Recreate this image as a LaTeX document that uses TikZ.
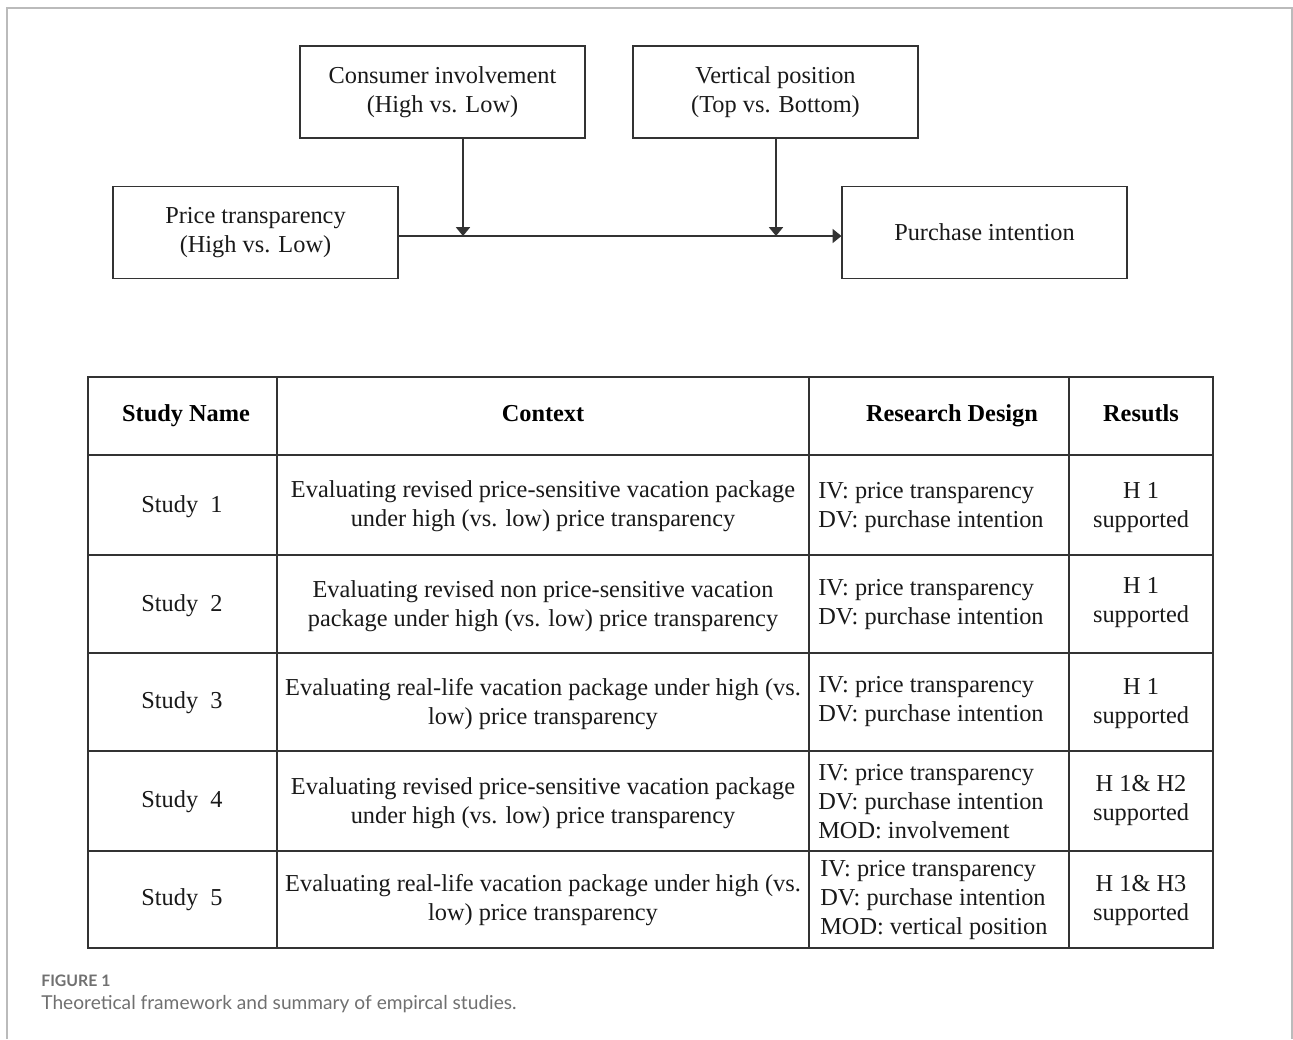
\documentclass[tikz,border=0pt]{standalone}
\usepackage{fontspec}
\setmainfont{Liberation Serif}
\newfontfamily\capfont{Lato}
\usetikzlibrary{arrows.meta}
\definecolor{linec}{HTML}{333333}
\definecolor{capgray}{HTML}{707070}
\definecolor{framec}{HTML}{BBBBBB}
\tikzset{
  txt/.style={font=\fontsize{13.85}{16.5}\selectfont, text=black!90, inner sep=0pt, align=center},
  ltxt/.style={font=\fontsize{13.85}{16.5}\selectfont, text=black!90, inner sep=0pt, align=left, anchor=west},
  hdr/.style={font=\fontsize{13.85}{16.5}\selectfont\bfseries, text=black, inner sep=0pt, anchor=base},
  varbox/.style={draw=linec, line width=0.7pt, minimum width=5.7cm, minimum height=1.84cm, txt},
  conn/.style={draw=linec, line width=0.7pt, -{Triangle[width=8pt,length=5pt]}},
  grid/.style={draw=linec, line width=0.8pt},
}
\begin{document}
\begin{tikzpicture}[x=0.02cm,y=-0.02cm]
\useasboundingbox (0,0) rectangle (1293,1039);
% outer frame
\draw[framec, line width=0.8pt] (7,1039) -- (7,8) -- (1292,8) -- (1292,1039);

% framework
\node[varbox] (ci) at (442.5,92) {Consumer involvement\\(High vs. Low)};
\node[varbox] (vp) at (775.5,92) {Vertical position\\(Top vs. Bottom)};
\node[varbox] (pt) at (255.5,232.5) {Price transparency\\(High vs. Low)};
\node[varbox] (pi) at (984.5,232.5) {Purchase intention};
\coordinate (m1) at (463,236);
\coordinate (m2) at (776,236);
\draw[conn] (pt.east |- 0,236) -- (pi.west |- 0,236);
\draw[conn] (ci.south -| m1) -- (m1);
\draw[conn] (vp.south -| m2) -- (m2);

% table grid
\draw[grid] (88,377) rectangle (1213,948);
\foreach \yy in {455,555,653,751,851} \draw[grid] (88,\yy) -- (1213,\yy);
\foreach \xx in {277,809,1069} \draw[grid] (\xx,377) -- (\xx,948);

% header
\node[hdr] (h1) at (186,421) {Study Name};
\node[hdr] (h2) at (543,421) {Context};
\node[hdr] (h3) at (952,421) {Research Design};
\node[hdr] (h4) at (1141,421) {Resutls};

% study names
\node[txt] (s1) at (182,507) {Study\ \ 1};
\node[txt] (s2) at (182,606) {Study\ \ 2};
\node[txt] (s3) at (182,703) {Study\ \ 3};
\node[txt] (s4) at (182,802) {Study\ \ 4};
\node[txt] (s5) at (182,900) {Study\ \ 5};

% context
\node[txt] (c1) at (543,506) {Evaluating revised price-sensitive vacation package\\under high (vs. low) price transparency};
\node[txt] (c2) at (543,606) {Evaluating revised non price-sensitive vacation\\package under high (vs. low) price transparency};
\node[txt] (c3) at (543,704) {Evaluating real-life vacation package under high (vs.\\low) price transparency};
\node[txt] (c4) at (543,803) {Evaluating revised price-sensitive vacation package\\under high (vs. low) price transparency};
\node[txt] (c5) at (543,900) {Evaluating real-life vacation package under high (vs.\\low) price transparency};

% research design
\node[ltxt] (d1) at (818,508) {IV: price transparency\\DV: purchase intention};
\node[ltxt] (d2) at (818,605) {IV: price transparency\\DV: purchase intention};
\node[ltxt] (d3) at (818,702) {IV: price transparency\\DV: purchase intention};
\node[ltxt] (d4) at (818,802) {IV: price transparency\\DV: purchase intention\\MOD: involvement};
\node[ltxt] (d5) at (820,900) {IV: price transparency\\DV: purchase intention\\MOD: vertical position};

% results
\node[txt] (r1) at (1141,508) {H 1\\supported};
\node[txt] (r2) at (1141,603) {H 1\\supported};
\node[txt] (r3) at (1141,704) {H 1\\supported};
\node[txt] (r4) at (1141,800) {H 1\& H2\\supported};
\node[txt] (r5) at (1141,900) {H 1\& H3\\supported};

% caption
\node[font=\capfont\fontsize{9}{11}\selectfont\bfseries, text=capgray, anchor=base west, inner sep=0pt] (fig) at (41,986) {FIGURE 1};
\node[font=\capfont\fontsize{10.9}{13}\selectfont, text=capgray, anchor=base west, inner sep=0pt] (cap) at (41,1009) {Theoretical framework and summary of empircal studies.};
\end{tikzpicture}
\end{document}
